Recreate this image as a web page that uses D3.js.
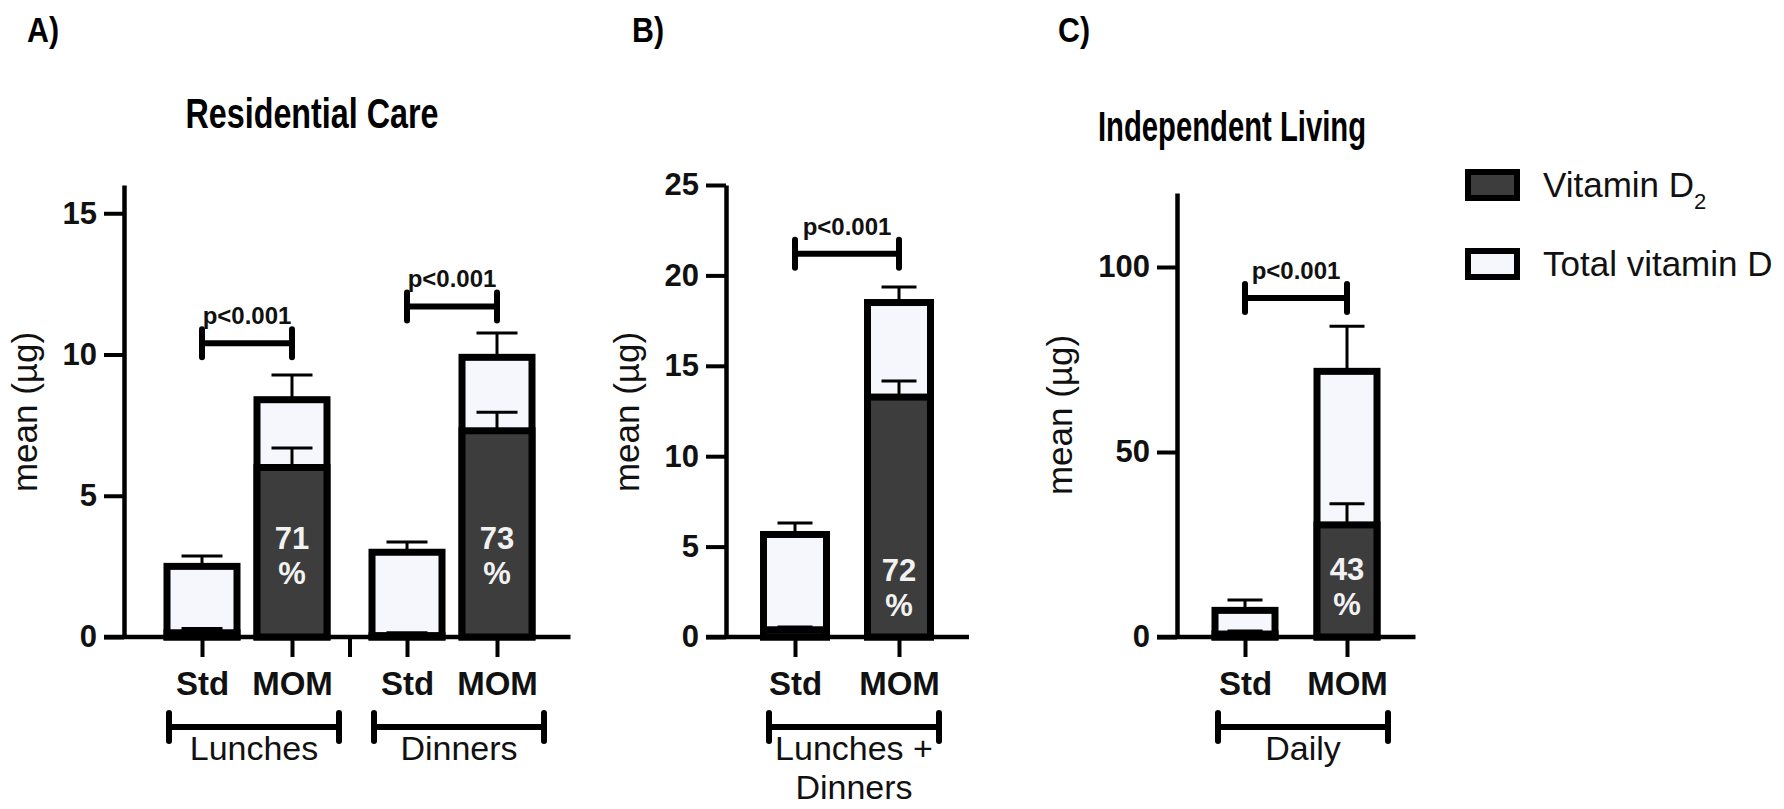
<!DOCTYPE html>
<html>
<head>
<meta charset="utf-8">
<script src="https://cdn.jsdelivr.net/npm/d3@7"></script>
<style>
  html, body { margin: 0; padding: 0; background: #fff; }
  svg { display: block; font-family: "Liberation Sans", Arial, sans-serif; }
</style>
</head>
<body>
<div id="chart"></div>
<script>
// ---- Data (mean µg) ----
// A) Residential care
const aCategories = ["Std", "MOM", "Std", "MOM"];
const aGroups = ["Lunches", "Dinners"];
const aGroupMembers = [[0, 1], [2, 3]];
const aTotal = [2.5, 8.4, 3.0, 9.9];
const aTotalErr = [2.87, 9.27, 3.36, 10.76];
const aD2 = [0.15, 6.0, 0.05, 7.3];
const aD2Err = [0.3, 6.69, 0.15, 7.96];
const aPercent = ["", "71", "", "73"];
const aTicks = [0, 5, 10, 15];
const aPairs = [[0, 1], [2, 3]];
const aPairLevel = [10.4, 11.7];

// B) Residential care, lunches + dinners
const bCategories = ["Std", "MOM"];
const bGroups = ["Lunches +|Dinners"];
const bGroupMembers = [[0, 1]];
const bTotal = [5.67, 18.5];
const bTotalErr = [6.3, 19.36];
const bD2 = [0.4, 13.27];
const bD2Err = [0.55, 14.16];
const bPercent = ["", "72"];
const bTicks = [0, 5, 10, 15, 20, 25];
const bPairs = [[0, 1]];
const bPairLevel = [21.2];

// C) Independent living, daily
const cCategories = ["Std", "MOM"];
const cGroups = ["Daily"];
const cGroupMembers = [[0, 1]];
const cTotal = [7.2, 71.8];
const cTotalErr = [10.0, 84.0];
const cD2 = [0.8, 30.3];
const cD2Err = [1.6, 36.0];
const cPercent = ["", "43"];
const cTicks = [0, 50, 100];
const cPairs = [[0, 1]];
const cPairLevel = [91.6];

const pLabel = "p<0.001";
const legendLabels = ["Vitamin D", "Total vitamin D"];

// ---- Layout ----
const W = 1784, H = 809;
const baseY = 637;
const darkFill = "#3d3d3d";
const lightFill = "#f5f7fc";

const panels = [
  { letter: "A)", letterX: 27, title: "Residential Care", titleX: 312, titleY: 128, titleLen: 253,
    cats: aCategories, groups: aGroups, members: aGroupMembers,
    total: aTotal, totalErr: aTotalErr, d2: aD2, d2Err: aD2Err, pct: aPercent,
    ticks: aTicks, pairs: aPairs, pairLevel: aPairLevel,
    axisX: 124, slots: [0, 1, 2.278, 3.278], separators: [1.639], xRange: [202, 497],
    barW: 70, capW: 41, yMax: 16, yTop: 185, pctY: 549, labelX: 37, labelY: 412 },
  { letter: "B)", letterX: 632, title: null,
    cats: bCategories, groups: bGroups, members: bGroupMembers,
    total: bTotal, totalErr: bTotalErr, d2: bD2, d2Err: bD2Err, pct: bPercent,
    ticks: bTicks, pairs: bPairs, pairLevel: bPairLevel,
    axisX: 726, slots: [0, 1], separators: [], xRange: [795, 899],
    barW: 63, capW: 35, yMax: 25, yTop: 185, pctY: 581, labelX: 639, labelY: 412 },
  { letter: "C)", letterX: 1058, title: "Independent Living", titleX: 1232, titleY: 141, titleLen: 268,
    cats: cCategories, groups: cGroups, members: cGroupMembers,
    total: cTotal, totalErr: cTotalErr, d2: cD2, d2Err: cD2Err, pct: cPercent,
    ticks: cTicks, pairs: cPairs, pairLevel: cPairLevel,
    axisX: 1177, slots: [0, 1], separators: [], xRange: [1245, 1347],
    barW: 60, capW: 35, yMax: 120, yTop: 193, pctY: 580, labelX: 1072, labelY: 415 }
];

const svg = d3.select("#chart")
  .append("svg")
  .attr("width", W)
  .attr("height", H);

panels.forEach(p => {
  const g = svg.append("g");

  const y = d3.scaleLinear().domain([0, p.yMax]).range([baseY, p.yTop]);
  const x = d3.scaleLinear()
    .domain([p.slots[0], p.slots[p.slots.length - 1]])
    .range(p.xRange);
  const cx = i => x(p.slots[i]);

  // panel letter
  g.append("text")
    .attr("x", p.letterX)
    .attr("y", 42)
    .attr("font-size", 35)
    .attr("font-weight", "bold")
    .attr("textLength", 32)
    .attr("lengthAdjust", "spacingAndGlyphs")
    .text(p.letter);

  // panel title
  if (p.title) {
    g.append("text")
      .attr("x", p.titleX)
      .attr("y", p.titleY)
      .attr("text-anchor", "middle")
      .attr("font-size", 42)
      .attr("font-weight", "bold")
      .attr("textLength", p.titleLen)
      .attr("lengthAdjust", "spacingAndGlyphs")
      .text(p.title);
  }

  // y axis
  const yAxisG = g.append("g")
    .attr("transform", `translate(${p.axisX},0)`)
    .call(d3.axisLeft(y).tickValues(p.ticks).tickSize(20).tickPadding(7).tickSizeOuter(0));
  yAxisG.select(".domain").attr("stroke", "#000").attr("stroke-width", 4.5);
  yAxisG.selectAll(".tick line").attr("stroke", "#000").attr("stroke-width", 4);
  yAxisG.selectAll(".tick text")
    .attr("fill", "#111")
    .attr("font-size", 31)
    .attr("font-weight", "bold")
    .attr("font-family", "Liberation Sans, Arial, sans-serif");

  // y axis title
  g.append("text")
    .attr("transform", `translate(${p.labelX},${p.labelY}) rotate(-90)`)
    .attr("text-anchor", "middle")
    .attr("font-size", 35)
    .attr("fill", "#111")
    .text("mean (µg)");

  // bars
  const lastRight = cx(p.cats.length - 1) + p.barW / 2 + 3.5;

  p.cats.forEach((cat, i) => {
    const xc = cx(i);
    // total vitamin D
    g.append("rect")
      .attr("x", xc - p.barW / 2)
      .attr("y", y(p.total[i]))
      .attr("width", p.barW)
      .attr("height", baseY - y(p.total[i]))
      .attr("fill", lightFill)
      .attr("stroke", "#000")
      .attr("stroke-width", 7);
    drawErr(g, xc, y(p.total[i]), y(p.totalErr[i]), p.capW);

    // vitamin D2
    g.append("rect")
      .attr("x", xc - p.barW / 2)
      .attr("y", y(p.d2[i]))
      .attr("width", p.barW)
      .attr("height", baseY - y(p.d2[i]))
      .attr("fill", darkFill)
      .attr("stroke", "#000")
      .attr("stroke-width", 7);
    drawErr(g, xc, y(p.d2[i]), y(p.d2Err[i]), p.capW);

    if (p.pct[i]) {
      const t = g.append("text")
        .attr("text-anchor", "middle")
        .attr("fill", "#f2f2f2")
        .attr("font-size", 31)
        .attr("font-weight", "bold");
      t.append("tspan").attr("x", xc).attr("y", p.pctY).text(p.pct[i]);
      t.append("tspan").attr("x", xc).attr("y", p.pctY + 35).text("%");
    }
  });

  // x axis line + ticks + category labels
  g.append("line")
    .attr("x1", p.axisX - 20)
    .attr("x2", lastRight + 35)
    .attr("y1", baseY)
    .attr("y2", baseY)
    .attr("stroke", "#000")
    .attr("stroke-width", 4.5);

  const tickVals = p.slots.concat(p.separators);
  const xAxisG = g.append("g")
    .attr("transform", `translate(0,${baseY})`)
    .call(d3.axisBottom(x)
      .tickValues(tickVals)
      .tickFormat(v => {
        const idx = p.slots.indexOf(v);
        return idx >= 0 ? p.cats[idx] : "";
      })
      .tickSize(20)
      .tickPadding(15)
      .tickSizeOuter(0));
  xAxisG.select(".domain").remove();
  xAxisG.selectAll(".tick line").attr("stroke", "#000").attr("stroke-width", 4);
  xAxisG.selectAll(".tick text")
    .attr("fill", "#111")
    .attr("font-size", 33)
    .attr("font-weight", "bold")
    .attr("font-family", "Liberation Sans, Arial, sans-serif");

  // group brackets under the axis
  p.groups.forEach((grp, gi) => {
    const mid = d3.mean(p.members[gi], i => cx(i)) + 7;
    drawBracket(g, mid - 85, mid + 85, 727, 14);
    const lines = grp.split("|");
    const t = g.append("text")
      .attr("text-anchor", "middle")
      .attr("font-size", 34)
      .attr("fill", "#111");
    lines.forEach((ln, li) => {
      t.append("tspan").attr("x", mid).attr("y", 760 + li * 39).text(ln);
    });
  });

  // significance brackets
  p.pairs.forEach((pr, k) => {
    const yy = y(p.pairLevel[k]);
    const x1 = cx(pr[0]), x2 = cx(pr[1]);
    drawBracket(g, x1, x2, yy, 14);
    g.append("text")
      .attr("x", (x1 + x2) / 2)
      .attr("y", yy - 19)
      .attr("text-anchor", "middle")
      .attr("font-size", 24)
      .attr("font-weight", "bold")
      .attr("fill", "#111")
      .text(pLabel);
  });
});

// legend
const legend = svg.append("g");
[darkFill, lightFill].forEach((fill, i) => {
  legend.append("rect")
    .attr("x", 1468)
    .attr("y", 172 + i * 79)
    .attr("width", 49)
    .attr("height", 26)
    .attr("fill", fill)
    .attr("stroke", "#000")
    .attr("stroke-width", 6);
});
const l1 = legend.append("text")
  .attr("x", 1543)
  .attr("y", 197)
  .attr("font-size", 35)
  .attr("fill", "#111")
  .text(legendLabels[0]);
l1.append("tspan").attr("font-size", 22).attr("dy", 12).text("2");
legend.append("text")
  .attr("x", 1543)
  .attr("y", 276)
  .attr("font-size", 35)
  .attr("fill", "#111")
  .text(legendLabels[1]);

function drawErr(g, xc, yFrom, yTo, capW) {
  g.append("line")
    .attr("x1", xc).attr("x2", xc)
    .attr("y1", yFrom).attr("y2", yTo)
    .attr("stroke", "#000").attr("stroke-width", 3);
  g.append("line")
    .attr("x1", xc - capW / 2).attr("x2", xc + capW / 2)
    .attr("y1", yTo).attr("y2", yTo)
    .attr("stroke", "#000").attr("stroke-width", 3);
}

function drawBracket(g, x1, x2, yy, half) {
  g.append("line")
    .attr("x1", x1).attr("x2", x2)
    .attr("y1", yy).attr("y2", yy)
    .attr("stroke", "#000").attr("stroke-width", 6);
  [x1, x2].forEach(xx => {
    g.append("line")
      .attr("x1", xx).attr("x2", xx)
      .attr("y1", yy - half).attr("y2", yy + half)
      .attr("stroke", "#000").attr("stroke-width", 6)
      .attr("stroke-linecap", "round");
  });
}
</script>
</body>
</html>
